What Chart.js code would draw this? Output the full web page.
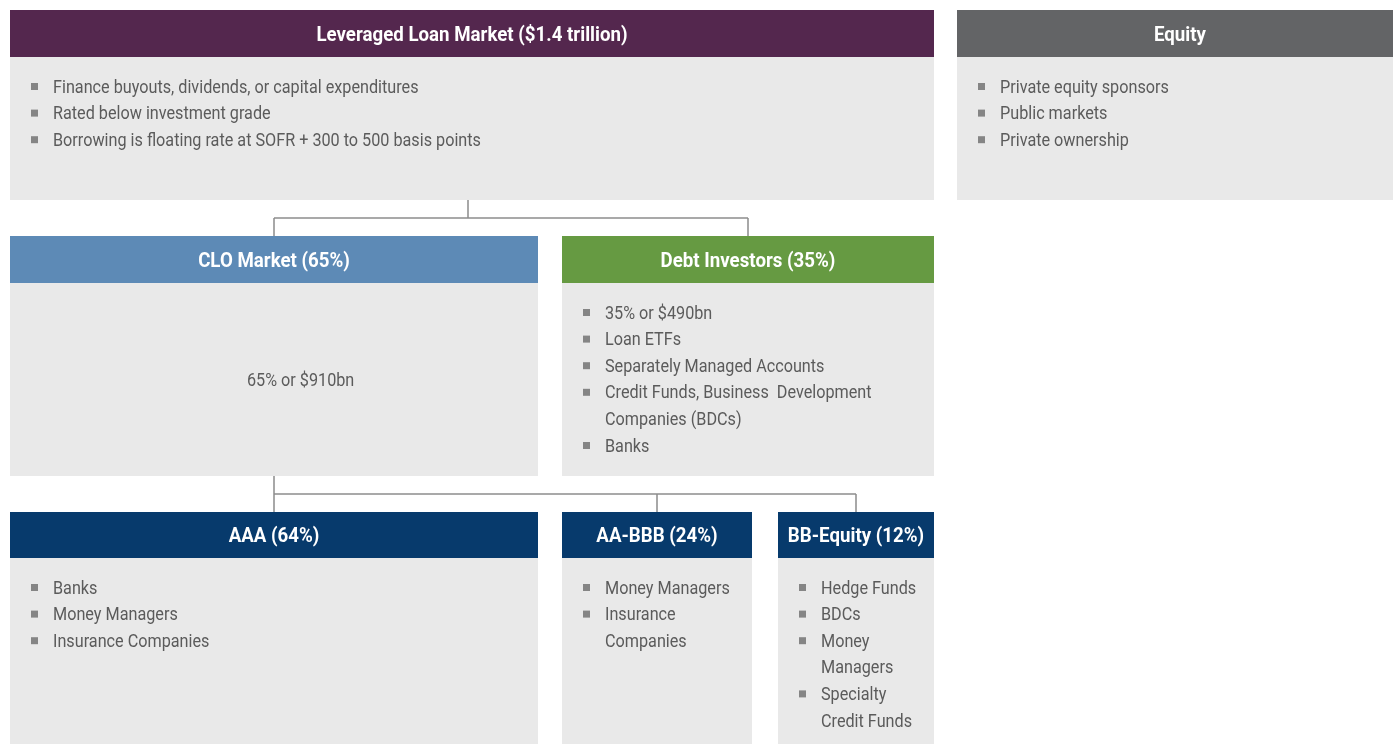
<!DOCTYPE html>
<html>
<head>
<meta charset="utf-8">
<script src="https://cdn.jsdelivr.net/npm/chart.js@4.4.1/dist/chart.umd.min.js"></script>
<style>
  html, body { margin: 0; padding: 0; background: #fff; }
  canvas { display: block; }
</style>
</head>
<body>
<canvas id="chart" width="1393" height="744"></canvas>
<script>
// box titles and bullet text (one entry per box, '\n' = wrapped line)
const boxTitles = [
  'Leveraged Loan Market ($1.4 trillion)',
  'Equity',
  'CLO Market (65%)',
  'Debt Investors (35%)',
  'AAA (64%)',
  'AA-BBB (24%)',
  'BB-Equity (12%)',
];
const boxItems = [
  ['Finance buyouts, dividends, or capital expenditures', 'Rated below investment grade', 'Borrowing is floating rate at SOFR + 300 to 500 basis points'],
  ['Private equity sponsors', 'Public markets', 'Private ownership'],
  [],
  ['35% or $490bn', 'Loan ETFs', 'Separately Managed Accounts', 'Credit Funds, Business  Development\nCompanies (BDCs)', 'Banks'],
  ['Banks', 'Money Managers', 'Insurance Companies'],
  ['Money Managers', 'Insurance\nCompanies'],
  ['Hedge Funds', 'BDCs', 'Money\nManagers', 'Specialty\nCredit Funds'],
];
const cloNote = '65% or $910bn';
// parent -> children links
const links = [[0, [2, 3]], [2, [4, 5, 6]]];

// layout (canvas units) kept apart from the content
const boxFrames = [
  { x0: 10,  x1: 934,  y0: 10,  y1: 200, head: 47, color: '#54274e' },
  { x0: 957, x1: 1403, y0: 10,  y1: 200, head: 47, color: '#636466' },
  { x0: 10,  x1: 538,  y0: 236, y1: 476, head: 47, color: '#5d8ab6' },
  { x0: 562, x1: 934,  y0: 236, y1: 476, head: 47, color: '#669a42' },
  { x0: 10,  x1: 538,  y0: 512, y1: 744, head: 46, color: '#073a6c' },
  { x0: 562, x1: 752,  y0: 512, y1: 744, head: 46, color: '#073a6c' },
  { x0: 778, x1: 934,  y0: 512, y1: 744, head: 46, color: '#073a6c' },
];
const linkShift = [-4, 0];   // small nudge of the parent drop line
const BODY_BG = '#e9e9e9';
const TEXT_COL = '#5b5b5b';
const BULLET_COL = '#858585';
const LINE_COL = '#8c8c8c';
const FONT = 'Roboto, sans-serif';
const HEAD_SQUEEZE = 0.89;   // condensed look
const BODY_SQUEEZE = 0.9;

// connector polylines built from the frames
const connectorSets = [];
links.forEach(([p, kids], li) => {
  const pf = boxFrames[p];
  const cx = (pf.x0 + pf.x1) / 2 + linkShift[li];
  const top = Math.min(...kids.map(k => boxFrames[k].y0));
  const midY = (pf.y1 + top) / 2;
  connectorSets.push([{ x: cx, y: pf.y1 }, { x: cx, y: midY }]);
  const xs = kids.map(k => (boxFrames[k].x0 + boxFrames[k].x1) / 2);
  connectorSets.push([{ x: Math.min(cx, ...xs), y: midY }, { x: Math.max(cx, ...xs), y: midY }]);
  kids.forEach((k, i) => connectorSets.push([{ x: xs[i], y: midY }, { x: xs[i], y: boxFrames[k].y0 }]));
});

function squeezedText(ctx, txt, x, y, sx) {
  ctx.save();
  ctx.translate(x, y);
  ctx.scale(sx, 1);
  ctx.fillText(txt, 0, 0);
  ctx.restore();
}

const boxesPlugin = {
  id: 'boxes',
  beforeDatasetsDraw(chart) {
    const { ctx, scales: { x, y } } = chart;
    const px = v => x.getPixelForValue(v);
    const py = v => y.getPixelForValue(v);
    ctx.save();
    boxFrames.forEach((f, i) => {
      const L = px(f.x0), R = px(f.x1), T = py(f.y0), B = py(f.y1), H = py(f.y0 + f.head);
      ctx.fillStyle = BODY_BG;
      ctx.fillRect(L, H, R - L, B - H);
      ctx.fillStyle = f.color;
      ctx.fillRect(L, T, R - L, H - T);
      ctx.fillStyle = '#fff';
      ctx.font = `bold 21px ${FONT}`;
      ctx.textAlign = 'center';
      ctx.textBaseline = 'middle';
      squeezedText(ctx, boxTitles[i], (L + R) / 2, (T + H) / 2 + 2, HEAD_SQUEEZE);

      ctx.font = `18px ${FONT}`;
      ctx.textAlign = 'left';
      let ly = H + 30;
      boxItems[i].forEach(item => {
        ctx.fillStyle = BULLET_COL;
        ctx.fillRect(L + 21, ly - 4, 7, 7);
        ctx.fillStyle = TEXT_COL;
        item.split('\n').forEach(line => {
          squeezedText(ctx, line, L + 43, ly + 1, BODY_SQUEEZE);
          ly += 26.6;
        });
      });
    });
    const clo = boxFrames[2];
    ctx.fillStyle = TEXT_COL;
    ctx.font = `18px ${FONT}`;
    ctx.textAlign = 'left';
    squeezedText(ctx, cloNote, px(247), py((clo.y0 + clo.head + clo.y1) / 2 + 2), BODY_SQUEEZE);
    ctx.restore();
  },
};

new Chart(document.getElementById('chart'), {
  type: 'scatter',
  data: {
    datasets: connectorSets.map(pts => ({
      data: pts, showLine: true, borderColor: LINE_COL, borderWidth: 1.5,
      pointRadius: 0, fill: false,
    })),
  },
  options: {
    responsive: false, animation: false,
    layout: { padding: 0 },
    plugins: { legend: { display: false }, tooltip: { enabled: false } },
    scales: {
      x: { type: 'linear', min: 0, max: 1393, display: false },
      y: { type: 'linear', min: 0, max: 744, reverse: true, display: false },
    },
  },
  plugins: [boxesPlugin],
});
</script>
</body>
</html>
